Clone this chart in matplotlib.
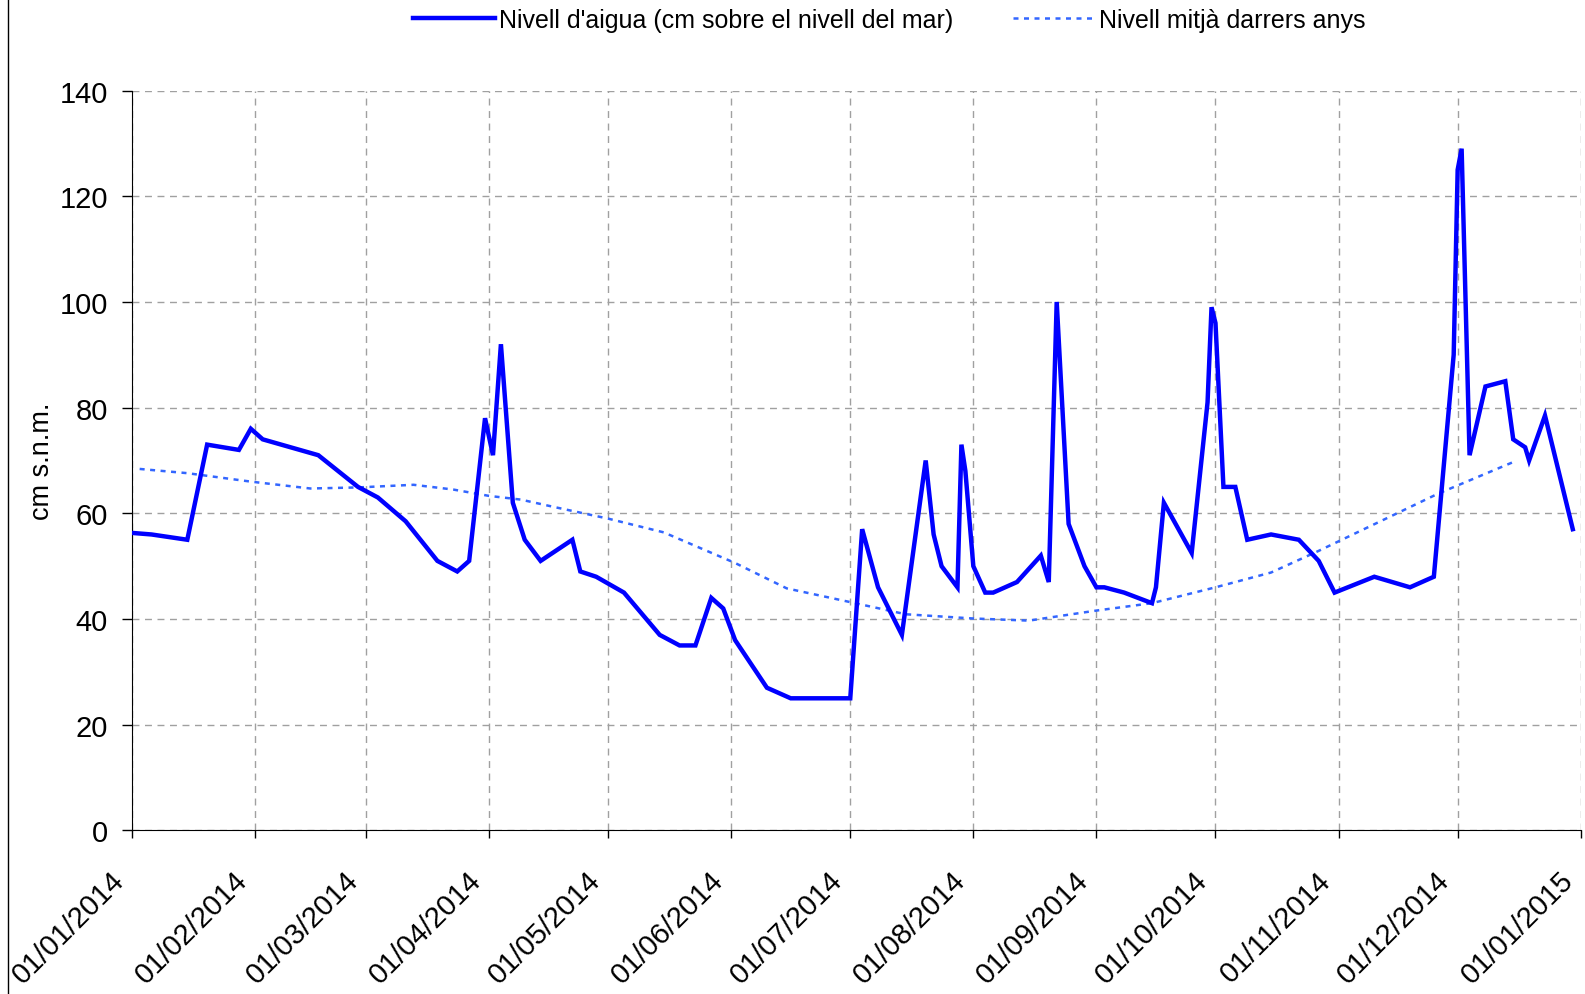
import numpy as np
import pandas as pd
import matplotlib
matplotlib.use("Agg")
import matplotlib.pyplot as plt
import matplotlib.dates as mdates
import matplotlib.transforms as mtransforms

plt.rcParams['font.family'] = ['Liberation Sans', 'DejaVu Sans']

# water level (cm above sea level)
level_dates = ["2014-01-01", "2014-01-06", "2014-01-15", "2014-01-20", "2014-01-28", "2014-01-31",
               "2014-02-03", "2014-02-17", "2014-02-27", "2014-03-04", "2014-03-11", "2014-03-19",
               "2014-03-24", "2014-03-27", "2014-03-31", "2014-04-02", "2014-04-04", "2014-04-07",
               "2014-04-10", "2014-04-14", "2014-04-22", "2014-04-24", "2014-04-28", "2014-05-05",
               "2014-05-14", "2014-05-19", "2014-05-23", "2014-05-27", "2014-05-30", "2014-06-02",
               "2014-06-10", "2014-06-16", "2014-07-01", "2014-07-04", "2014-07-08", "2014-07-14",
               "2014-07-20", "2014-07-22", "2014-07-24", "2014-07-28", "2014-07-29", "2014-07-30",
               "2014-08-01", "2014-08-04", "2014-08-06", "2014-08-12", "2014-08-18", "2014-08-20",
               "2014-08-22", "2014-08-25", "2014-08-29", "2014-09-01", "2014-09-03", "2014-09-08",
               "2014-09-15", "2014-09-16", "2014-09-18", "2014-09-25", "2014-09-29", "2014-09-30",
               "2014-10-01", "2014-10-03", "2014-10-06", "2014-10-09", "2014-10-15", "2014-10-22",
               "2014-10-27", "2014-10-31", "2014-11-10", "2014-11-19", "2014-11-25", "2014-11-30",
               "2014-12-01", "2014-12-02", "2014-12-04", "2014-12-08", "2014-12-13", "2014-12-15",
               "2014-12-18", "2014-12-19", "2014-12-23", "2014-12-30"]
level = [56.3, 56.0, 55.0, 73.0, 72.0, 76.0,
         74.0, 71.0, 65.0, 63.0, 58.5, 51.0,
         49.0, 51.0, 78.0, 71.0, 92.0, 62.0,
         55.0, 51.0, 55.0, 49.0, 48.0, 45.0,
         37.0, 35.0, 35.0, 44.0, 42.0, 36.0,
         27.0, 25.0, 25.0, 57.0, 46.0, 37.0,
         70.0, 56.0, 50.0, 46.0, 73.0, 68.0,
         50.0, 45.0, 45.0, 47.0, 52.0, 47.0,
         100.0, 58.0, 50.0, 46.0, 46.0, 45.0,
         43.0, 46.0, 62.0, 52.5, 81.0, 99.0,
         96.0, 65.0, 65.0, 55.0, 56.0, 55.0,
         51.0, 45.0, 48.0, 46.0, 48.0, 90.0,
         125.0, 129.0, 71.0, 84.0, 85.0, 74.0,
         72.5, 70.0, 78.5, 57.0]

# mean level of previous years
mean_dates = ["2014-01-03", "2014-01-15", "2014-01-31", "2014-02-15", "2014-02-27", "2014-03-13",
              "2014-03-23", "2014-04-01", "2014-04-09", "2014-04-18", "2014-05-01", "2014-05-15",
              "2014-06-02", "2014-06-15", "2014-07-01", "2014-07-15", "2014-08-01", "2014-08-15",
              "2014-09-01", "2014-09-15", "2014-10-01", "2014-10-15", "2014-10-27", "2014-11-11",
              "2014-11-26", "2014-12-15"]
mean_level = [68.4, 67.6, 66.0, 64.7, 64.9, 65.4,
              64.5, 63.3, 62.6, 61.1, 59.0, 56.4,
              50.6, 45.8, 43.2, 40.9, 40.1, 39.7,
              41.6, 43.0, 46.0, 48.8, 52.9, 58.3,
              63.7, 69.7]

fig = plt.figure(figsize=(15.85, 9.95), dpi=100)
ax = fig.add_axes([0.0831, 0.1644, 0.9142, 0.7436])

ax.plot(pd.to_datetime(level_dates), level, color='#0000FF', lw=3.2,
        label="Nivell d'aigua (cm sobre el nivell del mar)", solid_joinstyle='miter', zorder=3)
ax.plot(pd.to_datetime(mean_dates), mean_level, color='#3366FF', lw=1.8,
        linestyle=(0, (2, 2.2)), label="Nivell mitjà darrers anys", zorder=2)

ax.set_xlim(pd.Timestamp("2014-01-01"), pd.Timestamp("2015-01-01"))
ax.set_ylim(0, 140)
ax.set_yticks(np.arange(0, 141, 20))
ax.xaxis.set_major_locator(mdates.MonthLocator())
ax.xaxis.set_major_formatter(mdates.DateFormatter("%d/%m/%Y"))

ax.grid(True, color='#a0a0a0', linestyle=(0, (5, 4)), lw=1.0)
ax.tick_params(axis='both', labelsize=21, direction='out', width=1, color='black')
ax.tick_params(axis='x', length=6, pad=8)
ax.tick_params(axis='y', length=7, pad=10)
ax.spines['top'].set_visible(False)
ax.spines['right'].set_visible(False)
ax.set_ylabel("cm s.n.m.", fontsize=19.5, labelpad=3)

# rotated date labels, nudged down-left like the original
offset = mtransforms.ScaledTranslation(-0.22, -0.16, fig.dpi_scale_trans)
for lab in ax.get_xticklabels():
    lab.set_rotation(45)
    lab.set_ha('right')
    lab.set_rotation_mode('anchor')
    lab.set_transform(lab.get_transform() + offset)

fig.legend(loc='center', bbox_to_anchor=(0.561, 0.979), ncol=2, frameon=False,
           fontsize=18, handlelength=3.3, handletextpad=0.15, columnspacing=2.4)

# chart area border at the left edge
fig.add_artist(plt.Line2D([0.005, 0.005], [0, 1], color='black', lw=1, transform=fig.transFigure))

fig.savefig("out.png", dpi=100)
